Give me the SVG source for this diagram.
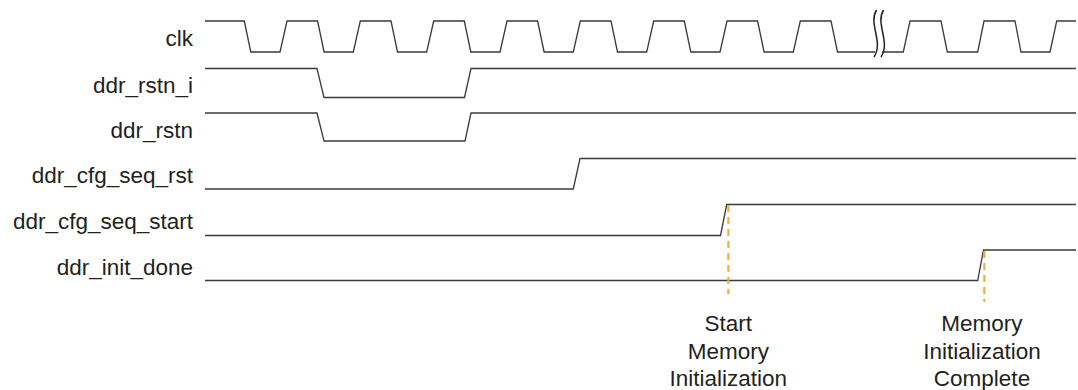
<svg xmlns="http://www.w3.org/2000/svg" width="1078" height="390" viewBox="0 0 1078 390">
<style>
.lbl{font-family:"Liberation Sans",Arial,sans-serif;font-size:22.5px;fill:#231f20;text-anchor:end}
.note{font-family:"Liberation Sans",Arial,sans-serif;font-size:22.5px;fill:#231f20;text-anchor:middle}
.wave{fill:none;stroke:#3a3a3a;stroke-width:1.3;stroke-linejoin:miter}
.brk{fill:none;stroke:#222;stroke-width:1.5}
.mark{fill:none;stroke:#f7a733;stroke-width:2;stroke-dasharray:7 5}
</style>
<rect width="1078" height="390" fill="#fff"/>
<g id="clk">
<text class="lbl" x="193" y="46">clk</text>
<path class="wave" d="M205,21 H244.3 L250.8,52 H280 L287,21 H317.6 L324.1,52 H353.3 L360.3,21 H391 L397.5,52 H426.7 L433.7,21 H464.3 L470.8,52 H500 L507,21 H537.6 L544.1,52 H573.3 L580.3,21 H611 L617.5,52 H646.7 L653.7,21 H684.3 L690.8,52 H720 L727,21 H757.6 L764.1,52 H793.3 L800.3,21 H831 L837.5,52 H875 M882,52 H903.3 L910,21 H941 L947.3,52 H977.7 L984,21 H1015 L1021,52 H1050 L1056.7,21 H1076"/>
<path class="brk" d="M876.5,10 C868,24 884,42 874,57 M883.5,10 C875,24 891,42 881,57"/>
</g>
<g id="ddr_rstn_i">
<text class="lbl" x="193" y="92.5">ddr_rstn_i</text>
<path class="wave" d="M205,68.5 H317 L324,97.5 H464.5 L471,68.5 H1076"/>
</g>
<g id="ddr_rstn">
<text class="lbl" x="193" y="137.5">ddr_rstn</text>
<path class="wave" d="M205,113 H317 L324,141 H465 L471,113 H1076"/>
</g>
<g id="ddr_cfg_seq_rst">
<text class="lbl" x="193" y="183">ddr_cfg_seq_rst</text>
<path class="wave" d="M205,189 H573.3 L580,158.5 H1076"/>
</g>
<g id="ddr_cfg_seq_start">
<text class="lbl" x="193" y="229">ddr_cfg_seq_start</text>
<path class="wave" d="M205,235.5 H720.5 L726.7,204.5 H1076"/>
</g>
<g id="ddr_init_done">
<text class="lbl" x="193" y="275">ddr_init_done</text>
<path class="wave" d="M205,280.5 H977.7 L983.5,250 H1076"/>
</g>
<g id="connectors">
<line class="mark" x1="728.3" y1="205" x2="728.3" y2="294"/>
<line class="mark" x1="984.3" y1="251" x2="984.3" y2="302"/>
</g>
<g id="note_start">
<text class="note" x="728.3" y="331">Start</text>
<text class="note" x="728.3" y="358.5">Memory</text>
<text class="note" x="728.3" y="386">Initialization</text>
</g>
<g id="note_complete">
<text class="note" x="982" y="331">Memory</text>
<text class="note" x="982" y="358.5">Initialization</text>
<text class="note" x="982" y="386">Complete</text>
</g>
</svg>
